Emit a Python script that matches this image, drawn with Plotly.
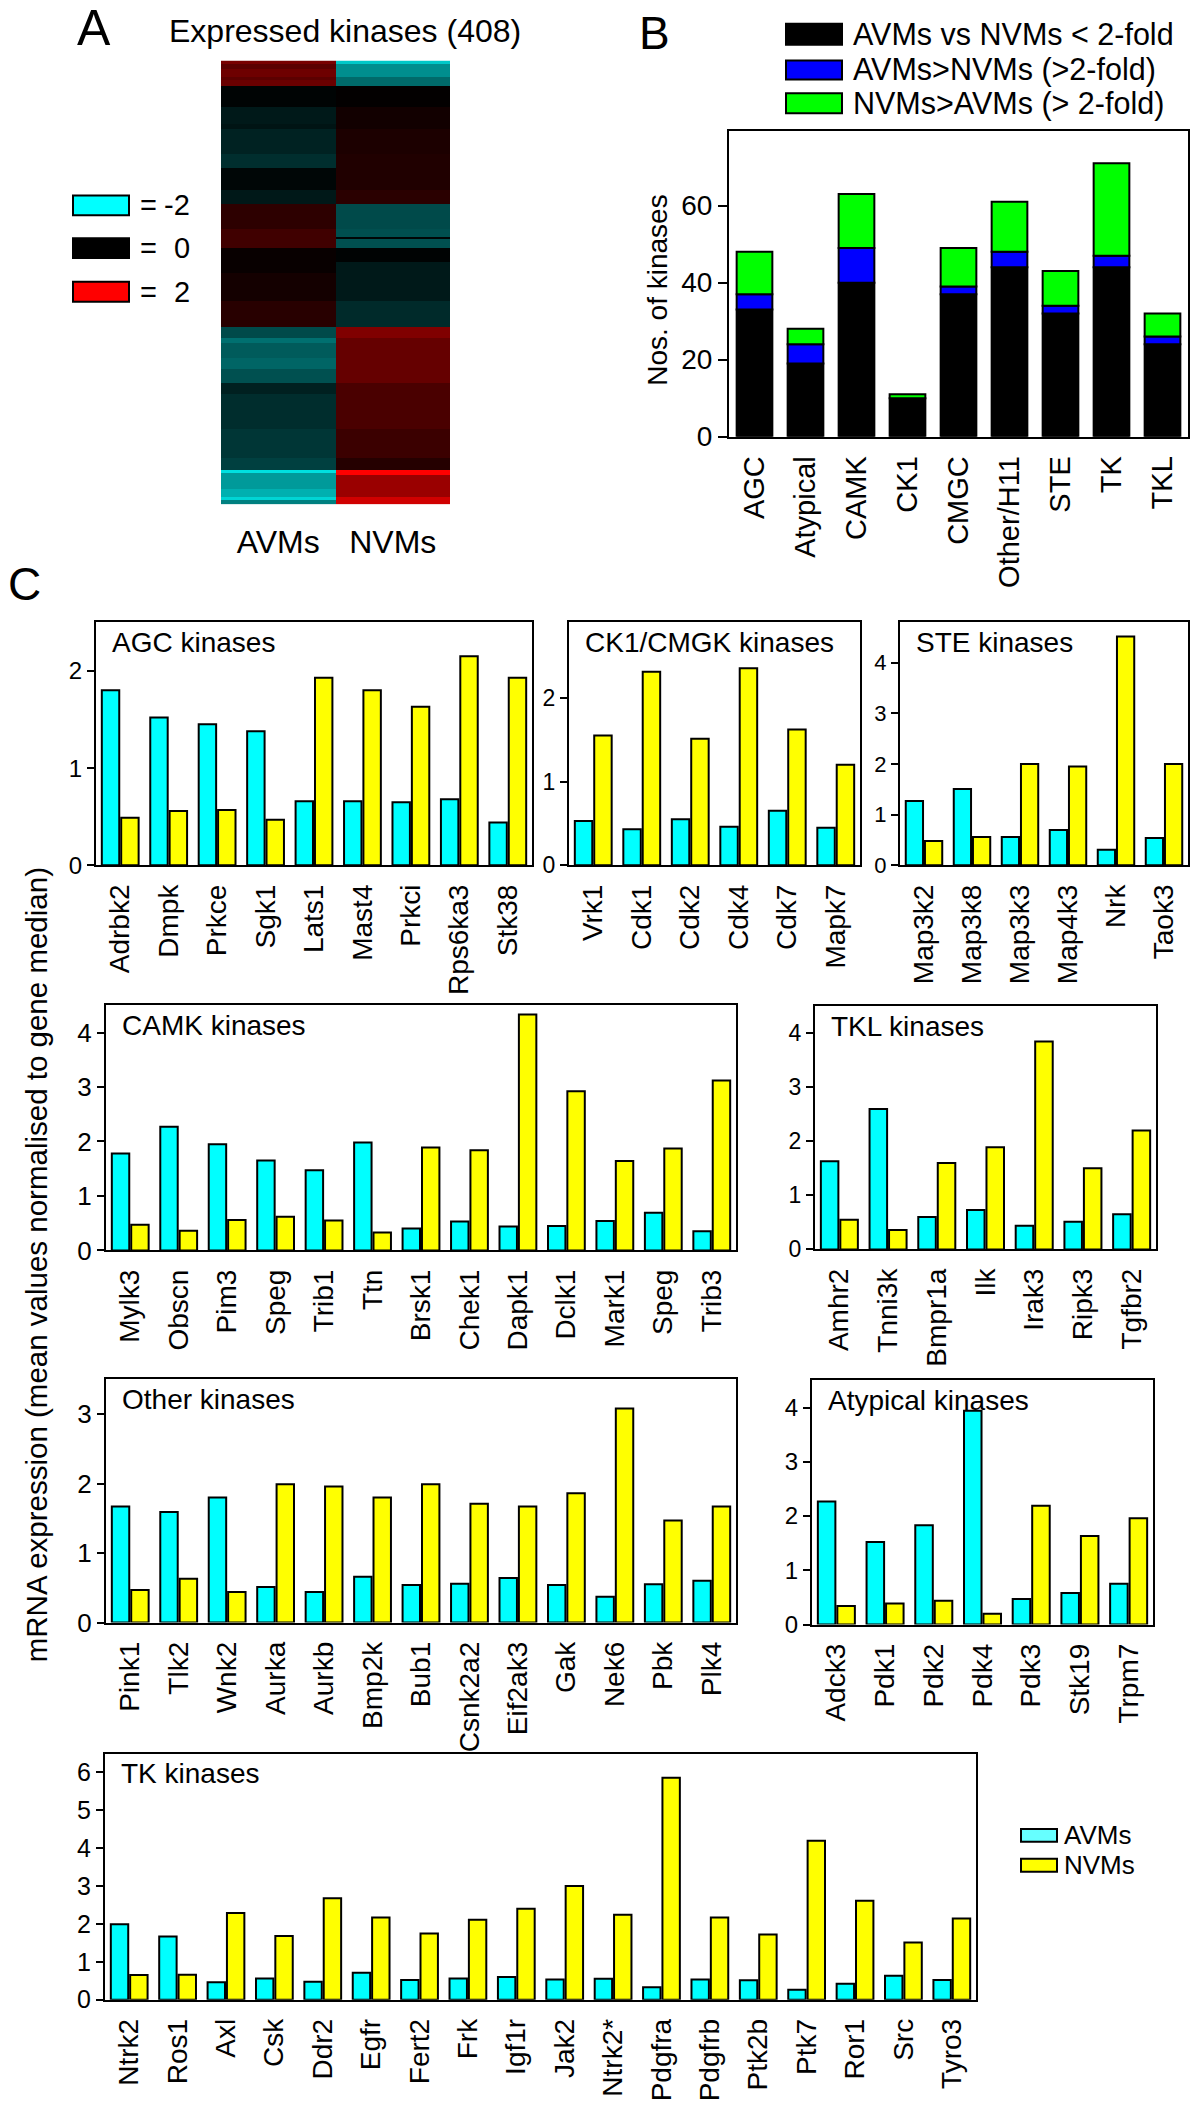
import plotly.graph_objects as go

W, H = 1191, 2101
FONT = "Liberation Sans, Arial, Helvetica, sans-serif"

# ---------------- Panel A: heatmap of the 408 expressed kinases ----------------
# row blocks from top to bottom: number of rows, AVMs value, NVMs value (log2 scale, -2..2)
hm_block_rows = [3, 5, 7, 3, 5, 20, 15, 5, 23, 13, 20, 13, 23, 7, 2, 8, 13, 10, 26, 24,
                 10, 5, 13, 10, 13, 10, 33, 26, 11, 3, 2, 13, 7, 3, 4]
hm_block_avms = [0.94, 0.71, 0.86, 0.72, 0.83, -0.03, -0.20, -0.16, -0.27, -0.36, -0.05, -0.19,
                 0.35, 0.50, 0.50, 0.50, 0.06, 0.06, 0.16, 0.31, -0.58, -0.88, -0.71, -0.79, -0.63,
                 -0.25, -0.35, -0.42, -0.50, -1.76, -1.21, -1.21, -1.38, -1.67, -1.00]
hm_block_nvms = [-1.57, -1.11, -1.11, -0.83, -0.83, 0.02, 0.14, 0.14, 0.22, 0.25, 0.25, 0.33,
                 -0.58, -0.62, -0.05, -0.63, -0.02, -0.20, -0.20, -0.33, 1.00, 0.79, 0.79, 0.79, 0.79,
                 0.58, 0.58, 0.46, 0.29, 2.00, 2.00, 1.21, 1.21, 1.63, 1.63]
hm_columns = ["AVMs", "NVMs"]
hm_legend_values = [-2, 0, 2]

# ---------------- Panel B: kinase families ----------------
families = ["AGC", "Atypical", "CAMK", "CK1", "CMGC", "Other/H11", "STE", "TK", "TKL"]
n_below_2fold = [33, 19, 40, 10, 37, 44, 32, 44, 24]
n_avms_up = [4, 5, 9, 0, 2, 4, 2, 3, 2]
n_nvms_up = [11, 4, 14, 1, 10, 13, 9, 24, 6]
family_series = ["AVMs vs NVMs < 2-fold", "AVMs>NVMs (>2-fold)", "NVMs>AVMs (> 2-fold)"]

# ---------------- Panel C: mRNA expression per kinase ----------------
agc_genes = ["Adrbk2", "Dmpk", "Prkce", "Sgk1", "Lats1", "Mast4", "Prkci", "Rps6ka3", "Stk38"]
agc_avms = [1.80, 1.52, 1.45, 1.38, 0.66, 0.66, 0.65, 0.68, 0.44]
agc_nvms = [0.49, 0.56, 0.57, 0.47, 1.93, 1.80, 1.63, 2.15, 1.93]

ck1_genes = ["Vrk1", "Cdk1", "Cdk2", "Cdk4", "Cdk7", "Mapk7"]
ck1_avms = [0.53, 0.43, 0.55, 0.46, 0.65, 0.45]
ck1_nvms = [1.55, 2.31, 1.51, 2.35, 1.62, 1.20]

ste_genes = ["Map3k2", "Map3k8", "Map3k3", "Map4k3", "Nrk", "Taok3"]
ste_avms = [1.27, 1.51, 0.56, 0.70, 0.31, 0.54]
ste_nvms = [0.48, 0.56, 2.00, 1.95, 4.52, 2.00]

camk_genes = ["Mylk3", "Obscn", "Pim3", "Speg", "Trib1", "Ttn", "Brsk1", "Chek1", "Dapk1",
              "Dclk1", "Mark1", "Speg", "Trib3"]
camk_avms = [1.78, 2.27, 1.95, 1.65, 1.47, 1.98, 0.40, 0.53, 0.44, 0.45, 0.54, 0.69, 0.35]
camk_nvms = [0.47, 0.36, 0.56, 0.62, 0.55, 0.33, 1.89, 1.84, 4.33, 2.92, 1.64, 1.87, 3.12]

tkl_genes = ["Amhr2", "Tnni3k", "Bmpr1a", "Ilk", "Irak3", "Ripk3", "Tgfbr2"]
tkl_avms = [1.63, 2.60, 0.60, 0.73, 0.44, 0.51, 0.65]
tkl_nvms = [0.55, 0.36, 1.60, 1.89, 3.85, 1.50, 2.20]

other_genes = ["Pink1", "Tlk2", "Wnk2", "Aurka", "Aurkb", "Bmp2k", "Bub1", "Csnk2a2",
               "Eif2ak3", "Gak", "Nek6", "Pbk", "Plk4"]
other_avms = [1.67, 1.59, 1.80, 0.51, 0.44, 0.66, 0.54, 0.56, 0.64, 0.54, 0.37, 0.55, 0.60]
other_nvms = [0.47, 0.63, 0.44, 1.99, 1.96, 1.80, 1.99, 1.71, 1.67, 1.86, 3.08, 1.47, 1.67]

atyp_genes = ["Adck3", "Pdk1", "Pdk2", "Pdk4", "Pdk3", "Stk19", "Trpm7"]
atyp_avms = [2.27, 1.52, 1.83, 3.94, 0.47, 0.58, 0.75]
atyp_nvms = [0.34, 0.39, 0.44, 0.20, 2.19, 1.63, 1.96]

tk_genes = ["Ntrk2", "Ros1", "Axl", "Csk", "Ddr2", "Egfr", "Fert2", "Frk", "Igf1r", "Jak2",
            "Ntrk2*", "Pdgfra", "Pdgfrb", "Ptk2b", "Ptk7", "Ror1", "Src", "Tyro3"]
tk_avms = [1.99, 1.67, 0.46, 0.56, 0.47, 0.71, 0.52, 0.56, 0.60, 0.53, 0.55, 0.33, 0.53, 0.51,
           0.26, 0.42, 0.63, 0.52]
tk_nvms = [0.65, 0.66, 2.29, 1.68, 2.68, 2.17, 1.75, 2.11, 2.40, 3.00, 2.24, 5.86, 2.17, 1.72,
           4.20, 2.61, 1.51, 2.14]

groups = ["AVMs", "NVMs"]

# colours
CYAN, YELLOW = "#00FFFF", "#FFFF00"
LEGEND_COLORS = ["#66FFFF", "#FFFF00"]
FAMILY_COLORS = ["#000000", "#0000FF", "#00FF00"]


def xdom(x0, x1):
    return [x0 / W, x1 / W]


def ydom(ytop, ybot):
    return [1 - ybot / H, 1 - ytop / H]


def text(t, x, y, size, xanchor="center", yanchor="middle", angle=0):
    return dict(text=t, x=x / W, y=1 - y / H, xref="paper", yref="paper", showarrow=False,
                font=dict(size=size, family=FONT, color="black"),
                xanchor=xanchor, yanchor=yanchor, textangle=angle)


def rect(x0, y0, x1, y1, fill):
    return dict(type="rect", xref="paper", yref="paper", x0=x0 / W, x1=x1 / W,
                y0=1 - y1 / H, y1=1 - y0 / H, fillcolor=fill,
                line=dict(color="black", width=2))


fig = go.Figure()
layout = dict(width=W, height=H, margin=dict(l=0, r=0, t=0, b=0), autosize=False,
              paper_bgcolor="white", plot_bgcolor="white", showlegend=False,
              barmode="overlay", font=dict(family=FONT, color="black"))
annotations, shapes = [], []

# ---- heatmap ----
z = []
for n, a, v in zip(hm_block_rows, hm_block_avms, hm_block_nvms):
    for _ in range(n):
        z.append([a, v])
fig.add_trace(go.Heatmap(z=z, x=[0, 1], y=list(range(len(z))), zmin=-2, zmax=2,
                         colorscale=[[0, "#00FFFF"], [0.5, "#000000"], [1, "#FF0000"]],
                         showscale=False, hoverinfo="skip", xaxis="x", yaxis="y"))
layout["xaxis"] = dict(domain=xdom(221, 450), range=[-0.5, 1.5], tickvals=[0, 1],
                       ticktext=hm_columns, showline=False, showgrid=False, zeroline=False,
                       ticks="", ticklabelstandoff=16, tickfont=dict(size=32), anchor="y")
layout["yaxis"] = dict(domain=ydom(61, 508), range=[len(z) - 0.5, -0.5], visible=False,
                       anchor="x")
annotations.append(text("A", 94, 28, 50))
annotations.append(text("Expressed kinases (408)", 345, 31, 32))
for val, (y0, y1) in zip(hm_legend_values, [(197, 217), (240, 260), (284, 304)]):
    frac = (val + 2) / 4
    col = "#00FFFF" if frac < 0.5 else ("#000000" if frac == 0.5 else "#FF0000")
    shapes.append(rect(73, y0, 129, y1, col))
    annotations.append(text("=", 138, (y0 + y1) / 2, 29, xanchor="left"))
    annotations.append(text(str(val), 192, (y0 + y1) / 2, 29, xanchor="right"))

# ---- panel B ----
fam_idx = list(range(len(families)))
bases = [[0] * len(families), n_below_2fold,
         [a + b for a, b in zip(n_below_2fold, n_avms_up)]]
for vals, base, col in zip([n_below_2fold, n_avms_up, n_nvms_up], bases, FAMILY_COLORS):
    fig.add_trace(go.Bar(x=fam_idx, y=vals, base=base, width=0.7, offset=-0.35,
                         marker=dict(color=col, line=dict(color="black", width=2)),
                         xaxis="x2", yaxis="y2", hoverinfo="skip"))
layout["xaxis2"] = dict(domain=xdom(729, 1188), range=[-0.5, len(families) - 0.5],
                        tickvals=fam_idx, ticktext=families, tickangle=-90, ticks="",
                        ticklabelstandoff=6, tickfont=dict(size=29), showline=True,
                        mirror=True, linecolor="black", linewidth=2, showgrid=False,
                        zeroline=False, anchor="y2")
layout["yaxis2"] = dict(domain=ydom(132, 440), range=[0, 79.4], tickvals=[0, 20, 40, 60],
                        ticks="outside", ticklen=9, tickwidth=2, tickcolor="black",
                        tickfont=dict(size=28), showline=True, mirror=True, linecolor="black",
                        linewidth=2, showgrid=False, zeroline=False, anchor="x2")
annotations.append(text("B", 654, 33, 46))
annotations.append(text("Nos. of kinases", 658, 293, 28, angle=-90))
for name, col, (y0, y1) in zip(family_series, FAMILY_COLORS, [(24, 45), (61, 80), (94, 114)]):
    shapes.append(rect(786, y0, 842, y1, col))
    annotations.append(text(name, 851, (y0 + y1) / 2, 30.5, xanchor="left"))

# ---- panel C ----
panels = [
    (agc_genes, agc_avms, agc_nvms, "AGC kinases", (96, 532, 627, 872), 2.5, [0, 1, 2], 24),
    (ck1_genes, ck1_avms, ck1_nvms, "CK1/CMGK kinases", (569, 860, 627, 872), 2.9, [0, 1, 2], 23),
    (ste_genes, ste_avms, ste_nvms, "STE kinases", (900, 1188, 627, 872), 4.8, [0, 1, 2, 3, 4], 22),
    (camk_genes, camk_avms, camk_nvms, "CAMK kinases", (106, 736, 1013, 1260), 4.5, [0, 1, 2, 3, 4], 26),
    (tkl_genes, tkl_avms, tkl_nvms, "TKL kinases", (815, 1156, 1014, 1259), 4.5, [0, 1, 2, 3, 4], 23),
    (other_genes, other_avms, other_nvms, "Other kinases", (106, 736, 1390, 1635), 3.5, [0, 1, 2, 3], 26),
    (atyp_genes, atyp_avms, atyp_nvms, "Atypical kinases", (812, 1153, 1391, 1637), 4.5, [0, 1, 2, 3, 4], 24),
    (tk_genes, tk_avms, tk_nvms, "TK kinases", (105, 976, 1767, 2015), 6.5, list(range(7)), 25),
]
for k, (genes, av, nv, title, (x0, x1, yt, yb), ymax, tv, tfs) in enumerate(panels):
    ax = k + 3
    idx = list(range(len(genes)))
    for vals, col, off in zip([av, nv], [CYAN, YELLOW], [-0.38, 0.02]):
        fig.add_trace(go.Bar(x=idx, y=vals, width=0.36, offset=off,
                             marker=dict(color=col, line=dict(color="black", width=2)),
                             xaxis=f"x{ax}", yaxis=f"y{ax}", hoverinfo="skip"))
    layout[f"xaxis{ax}"] = dict(domain=xdom(x0, x1), range=[-0.5, len(genes) - 0.5],
                                tickvals=idx, ticktext=genes, tickangle=-90, ticks="",
                                ticklabelstandoff=6, tickfont=dict(size=28), showline=True,
                                mirror=True, linecolor="black", linewidth=2, showgrid=False,
                                zeroline=False, anchor=f"y{ax}")
    layout[f"yaxis{ax}"] = dict(domain=ydom(yt, yb), range=[0, ymax], tickvals=tv,
                                ticks="outside", ticklen=7, tickwidth=2, tickcolor="black",
                                tickfont=dict(size=tfs), showline=True, mirror=True,
                                linecolor="black", linewidth=2, showgrid=False,
                                zeroline=False, anchor=f"x{ax}")
    annotations.append(text(title, x0 + 14, yt + 20, 28, xanchor="left"))

annotations.append(text("C", 24, 588, 46))
annotations.append(text("mRNA expression (mean values normalised to gene median)",
                        36, 1275, 29.5, angle=-90))
for name, col, (y0, y1) in zip(groups, LEGEND_COLORS, [(1843, 1856), (1873, 1886)]):
    shapes.append(rect(1021, y0, 1057, y1, col))
    annotations.append(text(name, 1062, (y0 + y1) / 2, 26, xanchor="left"))

layout["annotations"] = annotations
layout["shapes"] = shapes
fig.update_layout(**layout)
fig.write_html("out.html")
